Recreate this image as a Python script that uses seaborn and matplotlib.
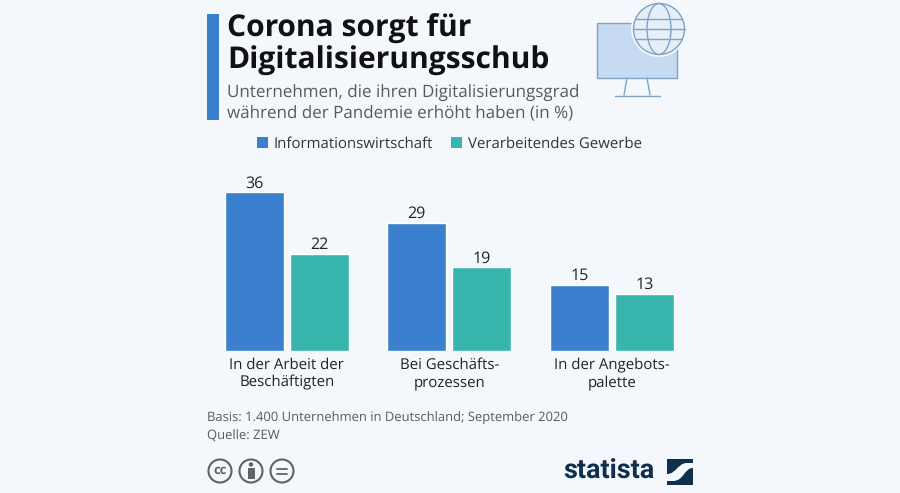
import matplotlib
matplotlib.use('Agg')
import matplotlib.pyplot as plt
import matplotlib.patches as mpatches
from matplotlib.path import Path
import pandas as pd
import seaborn as sns

# values
categories = ['In der Arbeit der\nBeschäftigten', 'Bei Geschäfts-\nprozessen', 'In der Angebots-\npalette']
info_values = [36, 29, 15]
gewerbe_values = [22, 19, 13]
series_names = ['Informationswirtschaft', 'Verarbeitendes Gewerbe']

BLUE = '#3a80cf'
TEAL = '#38b6ad'
BG = '#f4f8fc'
GREY = '#555b60'
NAVY = '#0e2f4d'

sns.set_theme(style='white')
plt.rcParams['font.family'] = ['Open Sans', 'DejaVu Sans']
plt.rcParams['text.hinting'] = 'no_hinting'
plt.rcParams['text.hinting_factor'] = 1

df = pd.DataFrame({'cat': categories * 2,
                   'serie': [series_names[0]] * 3 + [series_names[1]] * 3,
                   'wert': info_values + gewerbe_values})

W, H = 900, 493
fig = plt.figure(figsize=(W / 100, H / 100), dpi=100, facecolor=BG)

# full figure overlay in pixel coords (y down)
bg = fig.add_axes([0, 0, 1, 1])
bg.set_xlim(0, W)
bg.set_ylim(H, 0)
bg.axis('off')
bg.add_patch(mpatches.Rectangle((207, 14), 12, 106, color=BLUE, lw=0))

bg.text(227, 29, 'Corona sorgt für', fontsize=21.6, fontweight='bold', color='#111111', va='center')
bg.text(227, 61, 'Digitalisierungsschub', fontsize=21.6, fontweight='bold', color='#111111', va='center')
bg.text(227, 93, 'Unternehmen, die ihren Digitalisierungsgrad', fontsize=12.3, color=GREY, va='center')
bg.text(227, 114, 'während der Pandemie erhöht haben (in %)', fontsize=12.3, color=GREY, va='center')

# legend
bg.add_patch(mpatches.Rectangle((257, 137), 11, 11, color=BLUE, lw=0))
bg.text(274, 144, series_names[0], fontsize=10.9, color='#333333', va='center')
bg.add_patch(mpatches.Rectangle((451, 137), 11, 11, color=TEAL, lw=0))
bg.text(468, 144, series_names[1], fontsize=10.9, color='#333333', va='center')

# monitor + globe icon
line = '#7fa3c4'
bg.add_patch(mpatches.Rectangle((597, 23), 80, 55, fc='#c6daf1', ec=line, lw=1))
bg.plot([627, 624], [78, 95], color=line, lw=1)
bg.plot([647, 650], [78, 95], color=line, lw=1)
bg.plot([615, 660], [95.5, 95.5], color=line, lw=1)
bg.add_patch(mpatches.Circle((659, 29), 28, fc=BG, ec='none'))
bg.add_patch(mpatches.Circle((659, 29), 25.5, fc='#e6eef8', ec=line, lw=1))
bg.add_patch(mpatches.Ellipse((659, 29), 24, 51, fc='none', ec=line, lw=1))
for yy, half in [(19, 23), (29, 25.5), (39, 23)]:
    bg.plot([659 - half, 659 + half], [yy, yy], color=line, lw=1)

# footer
bg.text(207, 418, 'Basis: 1.400 Unternehmen in Deutschland; September 2020', fontsize=9.05, color=GREY, va='center')
bg.text(207, 436, 'Quelle: ZEW', fontsize=9.05, color=GREY, va='center')
ICON = '#5f6368'
for cx in [220, 251, 282]:
    bg.add_patch(mpatches.Circle((cx, 471), 11.5, fc='none', ec=ICON, lw=1.5))
bg.text(220, 470, 'cc', fontsize=9.5, fontweight='bold', color=ICON, ha='center', va='center')
bg.add_patch(mpatches.Circle((251, 464.5), 2.2, color=ICON, lw=0))
bg.add_patch(mpatches.Rectangle((247.5, 467.5), 7, 11, color=ICON, lw=0))
for yy in [468.5, 473.5]:
    bg.plot([277, 287], [yy, yy], color=ICON, lw=1.3)

bg.text(563, 471, 'statista', fontsize=19.6, fontweight='bold', color=NAVY, va='center',
        family=['Roboto', 'DejaVu Sans'])
bg.add_patch(mpatches.Rectangle((667, 458.5), 26, 26, color=NAVY, lw=0))
swoosh = Path([(667, 474), (676, 474), (678, 463), (687, 463), (693, 463), (693, 468), (693, 468),
               (684, 468), (684, 481), (673, 481), (667, 481), (667, 481), (667, 474)],
              [Path.MOVETO, Path.CURVE4, Path.CURVE4, Path.CURVE4, Path.LINETO, Path.LINETO, Path.LINETO,
               Path.CURVE4, Path.CURVE4, Path.CURVE4, Path.LINETO, Path.LINETO, Path.CLOSEPOLY])
bg.add_patch(mpatches.PathPatch(swoosh, fc=BG, lw=0))

# bars, axes placed so that the baseline sits at y=351
ax = fig.add_axes([205.5 / W, 1 - 351 / H, 487.5 / W, 175 / H])
ax.patch.set_alpha(0)
sns.barplot(data=df, x='cat', y='wert', hue='serie', palette=[BLUE, TEAL], hue_order=series_names,
            width=0.8, gap=0.09, saturation=1, legend=False, ax=ax)
ax.set_ylim(0, 175 / 4.42)
ax.set_xlim(-0.5, 2.5)
ax.set_xlabel('')
ax.set_ylabel('')
ax.set_yticks([])
ax.tick_params(axis='x', length=0, pad=5, labelsize=10.85, labelcolor='#222222')
for t in ax.get_xticklabels():
    t.set_linespacing(1.15)
sns.despine(ax=ax, left=True, bottom=True)
for c in ax.containers:
    ax.bar_label(c, fontsize=11.5, color='#222222', padding=0.5)

fig.savefig('out.png', dpi=100, facecolor=BG)
